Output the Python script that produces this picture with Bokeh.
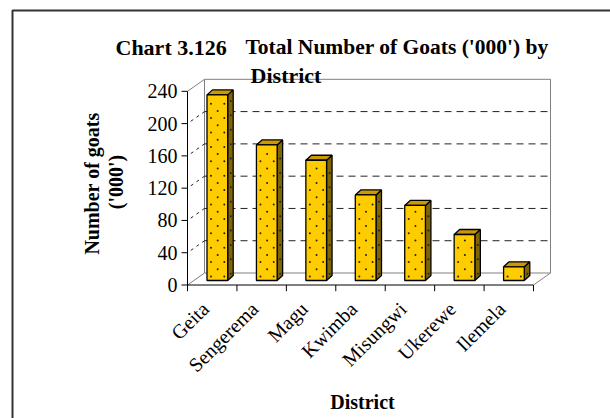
import math
from bokeh.plotting import figure
from bokeh.models import Range1d
from bokeh.core.properties import value
from bokeh.embed import file_html
from bokeh.resources import INLINE

# ---- data ----
districts = ["Geita", "Sengerema", "Magu", "Kwimba", "Misungwi", "Ukerewe", "Ilemela"]
goats = [230, 168, 149, 106, 93, 57, 17]
y_ticks = [0, 40, 80, 120, 160, 200, 240]
grid_values = [40, 80, 120, 160, 200]
title_parts = ["Chart 3.126", "Total Number of Goats ('000') by", "District"]
y_title_lines = ["Number of goats", "('000')"]
x_title = "District"

# ---- layout constants (canvas pixels) ----
W, H = 610, 418
X0, Y0 = 187.0, 284.5            # canvas px of data origin (front axis corner)
KX = 49.43                        # px per category
KY = 0.807                        # px per unit ('000 goats)
WALL_DX, WALL_DY = 17.0, 12.0
BAR_L, BAR_R = 19.5, 40.2         # bar front face inside its category (px)
BAR_UP = 4.5
DEP_DX, DEP_DY = 5.5, 5.0
DOT_ROW = 7.2                     # dotted fill texture spacing (px)
FONT = "Liberation Serif"

def dx(px):
    return px / KX
def dy(px):
    return px / KY
def X(cx):
    return (cx - X0) / KX
def Y(cy):
    return (Y0 - cy) / KY

n = len(districts)

p = figure(width=W, height=H, output_backend="svg", toolbar_location=None,
           x_range=Range1d(X(0), X(W)), y_range=Range1d(Y(H), Y(0)),
           x_axis_location=None, y_axis_location=None,
           min_border=0, min_border_left=0, min_border_right=0,
           min_border_top=0, min_border_bottom=0)
p.title.visible = False
p.outline_line_color = None
p.xgrid.visible = False
p.ygrid.visible = False
p.background_fill_color = "white"
p.border_fill_color = "white"

wdx, wdy = dx(WALL_DX), dy(WALL_DY)
ymax = y_ticks[-1]
gray = "#808080"

# chart area border (left and top visible in the picture)
p.line([X(700), X(12), X(12)], [Y(10), Y(10), Y(700)], line_color="#333333", line_width=2)

# back wall and side/floor edges
p.line([wdx, n + wdx, n + wdx, wdx, wdx], [wdy, wdy, ymax + wdy, ymax + wdy, wdy],
       line_color=gray, line_width=1)
p.segment(x0=[0, 0, n], y0=[ymax, 0, 0], x1=[wdx, wdx, n + wdx], y1=[ymax + wdy, wdy, wdy],
          line_color=gray, line_width=1)

# dashed gridlines on back wall + side wall
gv = grid_values
p.segment(x0=[wdx] * len(gv), y0=[v + wdy for v in gv],
          x1=[n + wdx] * len(gv), y1=[v + wdy for v in gv],
          line_color="#222222", line_width=1, line_dash="7 5")
p.segment(x0=[0] * len(gv), y0=gv, x1=[wdx] * len(gv), y1=[v + wdy for v in gv],
          line_color="#222222", line_width=1, line_dash="3 4", line_dash_offset=3)

# value axis (front left edge), ticks and labels
p.segment(x0=[0], y0=[0], x1=[0], y1=[ymax], line_color="black", line_width=1)
p.segment(x0=[-dx(6)] * len(y_ticks), y0=y_ticks, x1=[0] * len(y_ticks), y1=y_ticks,
          line_color="black", line_width=1)
p.text(x=[-dx(10)] * len(y_ticks), y=y_ticks, text=[str(v) for v in y_ticks],
       text_align="right", text_baseline="middle", text_font=value(FONT),
       text_font_size="20px", text_color="black")

# category axis (front floor edge) and ticks
p.segment(x0=[0], y0=[0], x1=[n], y1=[0], line_color="black", line_width=1)
p.segment(x0=list(range(n + 1)), y0=[0] * (n + 1), x1=list(range(n + 1)),
          y1=[-dy(6.2)] * (n + 1), line_color="black", line_width=1)

# bars
lefts = [i + dx(BAR_L) for i in range(n)]
rights = [i + dx(BAR_R) for i in range(n)]
bottoms = [dy(BAR_UP)] * n
tops = [v + dy(BAR_UP) for v in goats]
ddx, ddy = dx(DEP_DX), dy(DEP_DY)

side_xs = [[r, r + ddx, r + ddx, r] for r in rights]
side_ys = [[b, b + ddy, t + ddy, t] for b, t in zip(bottoms, tops)]
top_xs = [[l, r, r + ddx, l + ddx] for l, r in zip(lefts, rights)]
top_ys = [[t, t, t + ddy, t + ddy] for t in tops]

p.patches(side_xs, side_ys, fill_color="#806600", line_color="black", line_width=1.3)
p.patches(top_xs, top_ys, fill_color="#CC9900", line_color="black", line_width=1.3)
p.quad(left=lefts, right=rights, bottom=bottoms, top=tops,
       fill_color="#FFCC00", line_color="black", line_width=1.3)

# dotted fill texture of the bars (staggered dot lattice inside each face)
dot_x, dot_y = [], []
for l, r, b, t in zip(lefts, rights, bottoms, tops):
    k = 0
    while dy(4 + k * DOT_ROW) < (t - b) - dy(3):
        yy = b + dy(4 + k * DOT_ROW)
        if k % 2 == 0:
            dot_x += [l + dx(4), l + dx(17.3)]
            dot_y += [yy, yy]
            dot_x.append(r + dx(DEP_DX * 0.55))
            dot_y.append(yy + ddy * 0.55)
        else:
            dot_x.append(l + dx(10.7))
            dot_y.append(yy)
        k += 1
p.scatter(dot_x, dot_y, marker="circle", size=2, fill_color="#222222",
          line_color=None)

# category labels
p.text(x=[i + 0.5 - dx(7) for i in range(n)], y=[-dy(20.5)] * n, text=districts,
       angle=math.pi / 4, text_align="right", text_baseline="middle",
       text_font=value(FONT), text_font_size="20px", text_color="black")

# chart title (two lines; first line has a wide gap after the chart number)
p.text(x=[X(115)], y=[Y(46.5)], text=title_parts[:1], text_align="left",
       text_baseline="alphabetic", text_font=value(FONT), text_font_size="22px",
       text_font_style="bold", text_color="black")
p.text(x=[X(245)], y=[Y(46.5)], text=title_parts[1:2], text_align="left",
       text_baseline="alphabetic", text_font=value(FONT), text_font_size="21.5px",
       text_font_style="bold", text_color="black")
p.text(x=[X(285.5)], y=[Y(75)], text=title_parts[2:], text_align="center",
       text_baseline="alphabetic", text_font=value(FONT), text_font_size="22px",
       text_font_style="bold", text_color="black")
p.text(x=[X(362)], y=[Y(401)], text=[x_title], text_align="center",
       text_baseline="alphabetic", text_font=value(FONT), text_font_size="20px",
       text_font_style="bold", text_color="black")
p.text(x=[X(91.5), X(115)], y=[Y(183), Y(181.5)], text=y_title_lines, angle=math.pi / 2,
       text_align="center", text_baseline="middle", text_font=value(FONT),
       text_font_size="20px", text_font_style="bold", text_color="black")

open("out.html", "w").write(file_html(p, INLINE))
